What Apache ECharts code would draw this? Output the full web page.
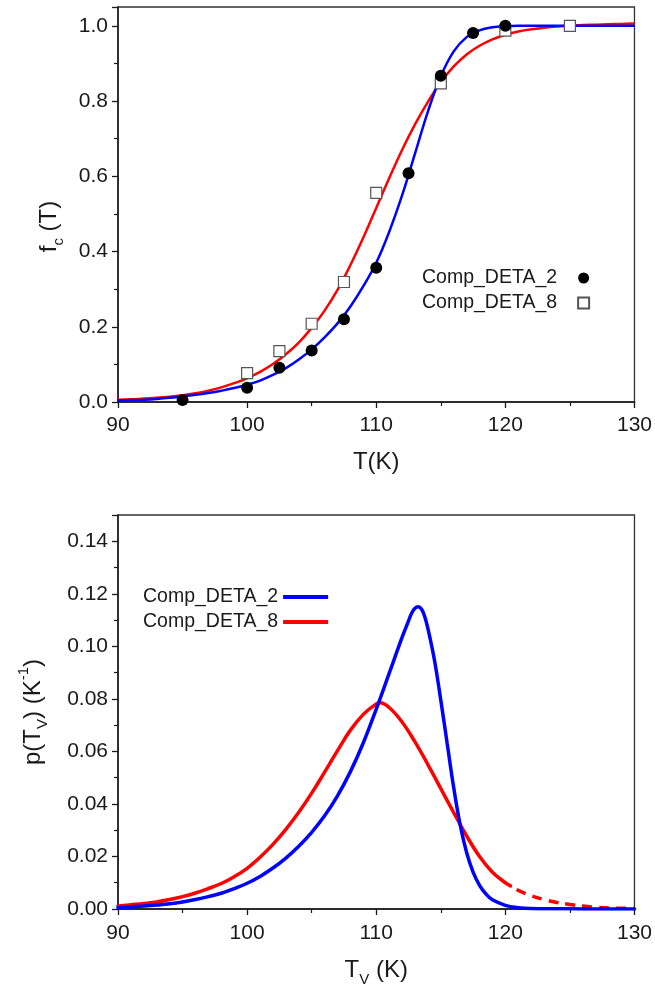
<!DOCTYPE html>
<html>
<head>
<meta charset="utf-8">
<script src="https://cdn.jsdelivr.net/npm/echarts@6/dist/echarts.min.js"></script>
<style>
html,body{margin:0;padding:0;background:#fff;}
#c{width:655px;height:990px;}
</style>
</head>
<body>
<div id="c"></div>
<script>
// ---------- Top panel: measured points ----------
const T_DETA2 = [95, 100, 102.5, 105, 107.5, 110, 112.5, 115, 117.5, 120];
const F_DETA2 = [0.005, 0.038, 0.091, 0.137, 0.22, 0.357, 0.608, 0.867, 0.981, 1.0];
const T_DETA8 = [100, 102.5, 105, 107.5, 110, 115, 120, 125];
const F_DETA8 = [0.077, 0.135, 0.208, 0.319, 0.556, 0.847, 0.987, 1.0];

// ---------- Top panel: fitted curves ----------
const T_FIT = [90,91,92,93,94,95,96,97,98,99,100,101,102,103,104,105,106,107,108,109,110,
               111,112,113,114,115,116,117,118,119,120,121,122,123,124,125,126,127,128,129,130];
const FIT_BLUE = [0.004,0.005,0.006,0.008,0.011,0.015,0.019,0.024,0.030,0.037,0.046,0.057,0.072,0.090,0.113,0.140,
                  0.172,0.209,0.254,0.308,0.370,0.452,0.549,0.660,0.772,0.866,0.932,0.970,0.988,0.996,0.999,
                  1.0,1.0,1.0,1.0,1.0,1.0,1.0,1.0,1.0,1.0];
const FIT_RED = [0.006,0.007,0.009,0.011,0.014,0.018,0.023,0.030,0.039,0.050,0.063,0.080,0.101,0.127,0.158,0.197,
                 0.243,0.298,0.364,0.437,0.516,0.595,0.670,0.738,0.798,0.850,0.892,0.924,0.947,0.964,0.976,
                 0.985,0.991,0.995,0.998,1.000,1.002,1.003,1.004,1.005,1.006];

// ---------- Bottom panel: distributions ----------
const TV_BLUE = [90,91,92,93,94,95,96,97,98,99,100,101,102,103,104,105,106,107,108,109,110,111,112,112.5,112.75,113,113.25,113.5,113.75,
                 114,114.5,115,115.5,116,116.5,117,117.5,118,118.5,119,120,121,122,124,126,128,130];
const P_BLUE = [0.0005,0.0008,0.0011,0.0015,0.0020,0.0027,0.0036,0.0047,0.0060,0.0078,0.0098,0.0124,0.0156,0.0194,0.0239,
                0.0292,0.0355,0.0431,0.0523,0.0633,0.0761,0.0897,0.1034,0.1097,0.1127,0.1145,0.1151,0.1142,0.1114,
                0.1068,0.0950,0.0795,0.0628,0.0462,0.0320,0.0215,0.0140,0.0090,0.0057,0.0035,0.0014,0.0005,0.0002,0.0001,0,0,0];
const TV_RED = [90,91,92,93,94,95,96,97,98,99,100,101,102,103,104,105,106,107,108,109,110,110.3,
                111,112,113,114,115,116,117,118,119,120,120.4];
const P_RED = [0.0011,0.0016,0.0021,0.0027,0.0036,0.0047,0.0061,0.0078,0.0097,0.0123,0.0155,0.0197,0.0246,0.0303,0.0368,
               0.0441,0.0521,0.0603,0.0681,0.0741,0.0781,0.0785,0.0767,0.0712,0.0636,0.0550,0.0458,0.0367,0.0278,0.0200,0.0140,0.0100,0.0088];
const TV_RED_EXT = [120.4,121,122,123,124,125,126,127,128,129,130];
const P_RED_EXT = [0.0088,0.0071,0.0051,0.0036,0.0025,0.0017,0.0011,0.0007,0.0004,0.0003,0.0002];

const X_TICKS = [90, 100, 110, 120, 130];

const pairs = (xs, ys) => xs.map((x, i) => [x, ys[i]]);
const FONT = 'Liberation Sans, Arial, sans-serif';
const INK = '#1a1a1a';
const BLUE = '#0000ff';
const RED = '#ff0000';

const onStep = (v, step) => Math.abs(v / step - Math.round(v / step)) < 1e-6;

function xAxis(gridIndex, name, gap, margin) {
  return {
    type: 'value', gridIndex, min: X_TICKS[0], max: X_TICKS[X_TICKS.length - 1], interval: 10,
    axisLine: { show: true, onZero: false, lineStyle: { color: INK, width: 1.5 } },
    axisTick: { show: true, inside: false, length: 6, lineStyle: { color: INK, width: 1.3 } },
    minorTick: { show: true, splitNumber: 2, length: 4, lineStyle: { color: INK, width: 1.2 } },
    splitLine: { show: false },
    axisLabel: { color: INK, fontSize: 21, fontFamily: FONT, margin },
    name, nameLocation: 'middle', nameGap: gap,
    nameTextStyle: { color: INK, fontFamily: FONT, fontSize: 24,
      rich: {
        m: { fontSize: 24, fontFamily: FONT, color: INK, lineHeight: 34 },
        s: { fontSize: 15, fontFamily: FONT, color: INK, verticalAlign: 'bottom' }
      } }
  };
}

const option = {
  backgroundColor: '#fff',
  animation: false,
  grid: [
    { left: 118, right: 19, top: 7, height: 395, show: true, borderColor: '#333', borderWidth: 1.3, backgroundColor: 'transparent' },
    { left: 118, right: 19, top: 515, height: 394, show: true, borderColor: '#333', borderWidth: 1.3, backgroundColor: 'transparent' }
  ],
  xAxis: [
    xAxis(0, '{m|T(K)}', 43, 13),
    xAxis(1, '{m|T}{s|V}{m| (K)}', 44, 14)
  ],
  yAxis: [
    {
      type: 'value', gridIndex: 0, min: 0, max: 1.05, interval: 0.2,
      axisLine: { show: true, lineStyle: { color: INK, width: 1.5 } },
      axisTick: { show: true, length: 6, lineStyle: { color: INK, width: 1.3 } },
      minorTick: { show: true, splitNumber: 2, length: 4, lineStyle: { color: INK, width: 1.2 } },
      splitLine: { show: false },
      axisLabel: { color: INK, fontSize: 21, fontFamily: FONT, margin: 10,
        formatter: v => onStep(v, 0.2) ? v.toFixed(1) : '' },
      name: '{m|f}{s|c}{m| (T)}', nameLocation: 'middle', nameGap: 52,
      nameTextStyle: { color: INK, fontFamily: FONT, fontSize: 24, padding: [0, 44, 0, 0],
        rich: {
          m: { fontSize: 24, fontFamily: FONT, color: INK, lineHeight: 34 },
          s: { fontSize: 15, fontFamily: FONT, color: INK, verticalAlign: 'bottom' }
        } }
    },
    {
      type: 'value', gridIndex: 1, min: 0, max: 0.15, interval: 0.02,
      axisLine: { show: true, lineStyle: { color: INK, width: 1.5 } },
      axisTick: { show: true, length: 6, lineStyle: { color: INK, width: 1.3 } },
      minorTick: { show: true, splitNumber: 2, length: 4, lineStyle: { color: INK, width: 1.2 } },
      splitLine: { show: false },
      axisLabel: { color: INK, fontSize: 21, fontFamily: FONT, margin: 10,
        formatter: v => onStep(v, 0.02) ? v.toFixed(2) : '' },
      name: '{m|p(T}{s|V}{m|) (K}{p|-1}{m|)}', nameLocation: 'middle', nameGap: 68,
      nameTextStyle: { color: INK, fontFamily: FONT, fontSize: 24,
        rich: {
          m: { fontSize: 24, fontFamily: FONT, color: INK, lineHeight: 34 },
          s: { fontSize: 15, fontFamily: FONT, color: INK, verticalAlign: 'bottom' },
          p: { fontSize: 15, fontFamily: FONT, color: INK, verticalAlign: 'top' }
        } }
    }
  ],
  legend: [
    {
      data: ['Comp_DETA_2', 'Comp_DETA_8'], orient: 'vertical', left: 422, top: 268, padding: 0,
      align: 'right', itemWidth: 11, itemHeight: 11, itemGap: 5,
      textStyle: { color: INK, fontSize: 19.5, fontFamily: FONT, padding: [0, 16, 0, 0] }
    },
    {
      data: [
        { name: 'Comp_DETA_2 ', icon: 'rect' },
        { name: 'Comp_DETA_8 ', icon: 'rect' }
      ],
      orient: 'vertical', left: 143, top: 587, padding: 0,
      align: 'right', itemWidth: 45, itemHeight: 4, itemGap: 5,
      formatter: n => n.trim(),
      textStyle: { color: INK, fontSize: 19.5, fontFamily: FONT }
    }
  ],
  series: [
    { name: 'fitRed', type: 'line', xAxisIndex: 0, yAxisIndex: 0, data: pairs(T_FIT, FIT_RED),
      smooth: 0.4, showSymbol: false, symbol: 'none', lineStyle: { color: RED, width: 2.5 }, z: 2, silent: true },
    { name: 'fitBlue', type: 'line', xAxisIndex: 0, yAxisIndex: 0, data: pairs(T_FIT, FIT_BLUE),
      smooth: 0.4, showSymbol: false, symbol: 'none', lineStyle: { color: BLUE, width: 2.5 }, z: 3, silent: true },
    { name: 'Comp_DETA_8', type: 'scatter', xAxisIndex: 0, yAxisIndex: 0, data: pairs(T_DETA8, F_DETA8),
      symbol: 'rect', symbolSize: 11, itemStyle: { color: '#ffffff', borderColor: '#555', borderWidth: 1.2, opacity: 1 }, z: 4 },
    { name: 'Comp_DETA_2', type: 'scatter', xAxisIndex: 0, yAxisIndex: 0, data: pairs(T_DETA2, F_DETA2),
      symbol: 'circle', symbolSize: 12, itemStyle: { color: '#000000', opacity: 1 }, z: 5 },

    { name: 'Comp_DETA_8 ', type: 'line', xAxisIndex: 1, yAxisIndex: 1, data: pairs(TV_RED, P_RED),
      smooth: 0.4, showSymbol: false, symbol: 'none', color: RED,
      itemStyle: { color: RED }, lineStyle: { color: RED, width: 3.5, cap: 'round' }, z: 2 },
    { name: 'redTail', type: 'line', xAxisIndex: 1, yAxisIndex: 1, data: pairs(TV_RED_EXT, P_RED_EXT),
      smooth: 0.4, showSymbol: false, symbol: 'none',
      lineStyle: { color: RED, width: 3.5, type: [10, 7], dashOffset: 10 }, z: 2 },
    { name: 'Comp_DETA_2 ', type: 'line', xAxisIndex: 1, yAxisIndex: 1, data: pairs(TV_BLUE, P_BLUE),
      smooth: 0.4, showSymbol: false, symbol: 'none', color: BLUE,
      itemStyle: { color: BLUE }, lineStyle: { color: BLUE, width: 3.5, cap: 'round' }, z: 3 }
  ]
};

const chart = echarts.init(document.getElementById('c'), null, { renderer: 'canvas' });
chart.setOption(option);
</script>
</body>
</html>
